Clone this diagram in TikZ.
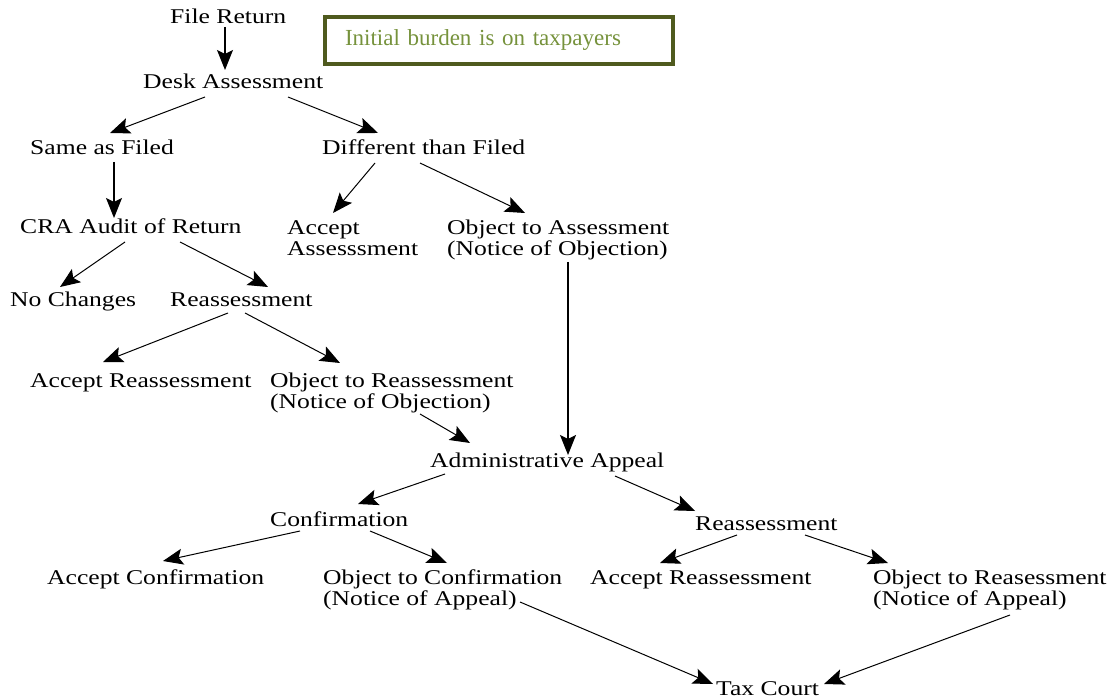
\documentclass[tikz,border=0pt]{standalone}
\usepackage{fontspec}
\setmainfont{Liberation Serif}[FakeStretch=1.22]
\newfontfamily\notefont{Liberation Serif}
\usetikzlibrary{arrows.meta}
\definecolor{boxline}{HTML}{4F5A1E}
\definecolor{boxtext}{HTML}{76923C}
\begin{document}
\begin{tikzpicture}[x=1pt,y=-1pt,
  lbl/.style={inner sep=0pt, anchor=base west, align=left,
    font=\fontsize{21pt}{21pt}\selectfont},
  arr/.style={line width=1pt, -{Stealth[length=20pt,width=16pt,inset=4pt]}},
  varr/.style={arr, line width=1.3pt},
  note/.style={draw=boxline, line width=4pt, anchor=north west,
    minimum width=348pt, minimum height=47pt, text width=308pt,
    inner xsep=20pt, inner ysep=0pt, align=left, text=boxtext,
    font=\notefont\fontsize{23pt}{24pt}\selectfont}]
\useasboundingbox (0,0) rectangle (1113,700);
\node[note] (box) at (323,15) {Initial burden is on taxpayers};
\node[lbl] (fr) at (170,24) {File Return};
\node[lbl] (da) at (143,89) {Desk Assessment};
\node[lbl] (same) at (30,155) {Same as Filed};
\node[lbl] (diff) at (322,155) {Different than Filed};
\node[lbl] (cra) at (20,234) {CRA Audit of Return};
\node[lbl] (acc) at (287,256) {Accept\\Assesssment};
\node[lbl] (obja) at (447,256) {Object to Assessment\\(Notice of Objection)};
\node[lbl] (noch) at (10,307) {No Changes};
\node[lbl] (reas) at (170,307) {Reassessment};
\node[lbl] (accr) at (30,387) {Accept Reassessment};
\node[lbl] (objr) at (270,408) {Object to Reassessment\\(Notice of Objection)};
\node[lbl] (adm) at (430,467) {Administrative Appeal};
\node[lbl] (conf) at (270,526) {Confirmation};
\node[lbl] (reas2) at (695,530) {Reassessment};
\node[lbl] (accc) at (47,584) {Accept Confirmation};
\node[lbl] (objc) at (323,605) {Object to Confirmation\\(Notice of Appeal)};
\node[lbl] (accr2) at (590,584) {Accept Reassessment};
\node[lbl] (objr2) at (873,605) {Object to Reasessment\\(Notice of Appeal)};
\node[lbl] (tax) at (716,695) {Tax Court};

\draw[varr] ([shift={(55,3)}]fr.base west) -- ([shift={(82,-19)}]da.base west);
\draw[arr] ([shift={(62,8)}]da.base west) -- ([shift={(80,-22)}]same.base west);
\draw[arr] ([shift={(145,8)}]da.base west) -- ([shift={(56,-22)}]diff.base west);
\draw[varr] ([shift={(84,7)}]same.base west) -- ([shift={(94,-16)}]cra.base west);
\draw[arr] ([shift={(53,8)}]diff.base west) -- ([shift={(46,-43)}]acc.base west);
\draw[arr] ([shift={(98,8)}]diff.base west) -- ([shift={(78,-43)}]obja.base west);
\draw[arr] ([shift={(105,8)}]cra.base west) -- ([shift={(50,-20)}]noch.base west);
\draw[arr] ([shift={(160,8)}]cra.base west) -- ([shift={(98,-20)}]reas.base west);
\draw[arr] ([shift={(58,6)}]reas.base west) -- ([shift={(73,-25)}]accr.base west);
\draw[arr] ([shift={(75,6)}]reas.base west) -- ([shift={(70,-45)}]objr.base west);
\draw[arr] ([shift={(150,6)}]objr.base west) -- ([shift={(40,-24)}]adm.base west);
\draw[varr] ([shift={(121,6)}]obja.base west) -- ([shift={(138,-12)}]adm.base west);
\draw[arr] ([shift={(15,7)}]adm.base west) -- ([shift={(88,-22)}]conf.base west);
\draw[arr] ([shift={(185,9)}]adm.base west) -- ([shift={(0,-19)}]reas2.base west);
\draw[arr] ([shift={(30,5)}]conf.base west) -- ([shift={(116,-23)}]accc.base west);
\draw[arr] ([shift={(100,5)}]conf.base west) -- ([shift={(124,-42)}]objc.base west);
\draw[arr] ([shift={(42,5)}]reas2.base west) -- ([shift={(70,-21)}]accr2.base west);
\draw[arr] ([shift={(110,5)}]reas2.base west) -- ([shift={(15,-42)}]objr2.base west);
\draw[arr] ([shift={(197,-3)}]objc.base west) -- ([shift={(-3,-11)}]tax.base west);
\draw[arr] ([shift={(137,10)}]objr2.base west) -- ([shift={(108,-11)}]tax.base west);
\end{tikzpicture}
\end{document}
